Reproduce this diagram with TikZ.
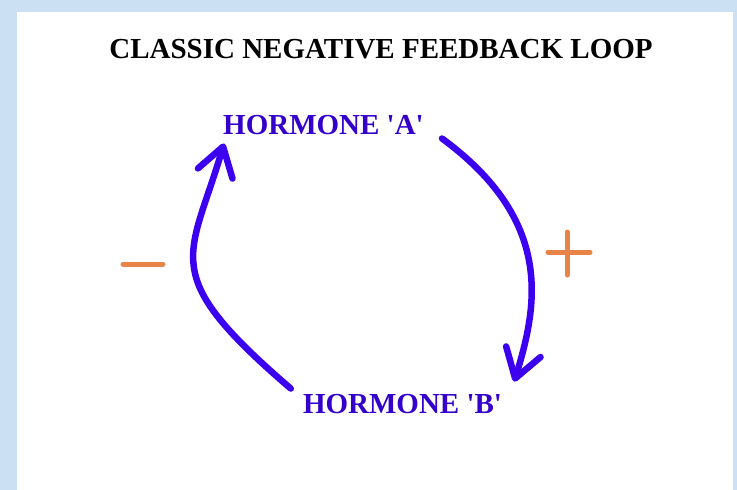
\documentclass[tikz,border=0pt]{standalone}
\usepackage{fontspec}
\setmainfont{Liberation Serif}
\usepackage{tikz}
\usetikzlibrary{positioning, calc, arrows.meta}

\definecolor{bgblue}{RGB}{204,224,243}
\definecolor{hormblue}{RGB}{51,0,204}
\definecolor{arrowblue}{RGB}{60,0,240}
\definecolor{signorange}{RGB}{232,132,72}

\begin{document}
\begin{tikzpicture}[x=1pt, y=-1pt,
    hormone/.style={text=hormblue, font=\fontsize{29}{32}\selectfont\bfseries, inner sep=0pt, anchor=base},
    feedback/.style={arrowblue, line width=6.5pt, line cap=round, -{Straight Barb[length=28pt, width=36pt, round]}},
    signmark/.style={signorange, line width=5pt, line cap=round}]
  % Background and white sheet
  \fill[bgblue] (0,0) rectangle (737,490);
  \fill[white] (17,12) rectangle (733,490);
  \useasboundingbox (0,0) rectangle (737,490);

  % Title and hormone labels
  \node[hormone, text=black] (title) at (381,58) {CLASSIC NEGATIVE FEEDBACK LOOP};
  \node[hormone] (ha) at (323.5,134) {HORMONE \textquotesingle A\textquotesingle};
  \node[hormone] (hb) at (402.5,413) {HORMONE \textquotesingle B\textquotesingle};

  % Feedback arrows
  \draw[feedback] ($(ha.south east)+(18,4)$) .. controls +(113,83) and +(23,-75) .. ($(hb.north east)+(12,-12)$);
  \draw[feedback] ($(hb.north west)+(-12,-5)$) .. controls +(-135,-116) and +(-34,116) .. ($(ha.south west)+(1,9)$);

  % Signs
  \draw[signmark] (123,264) -- (163,264);
  \draw[signmark] (548,252) -- (590,252) (567,232) -- (567,275);
\end{tikzpicture}
\end{document}
